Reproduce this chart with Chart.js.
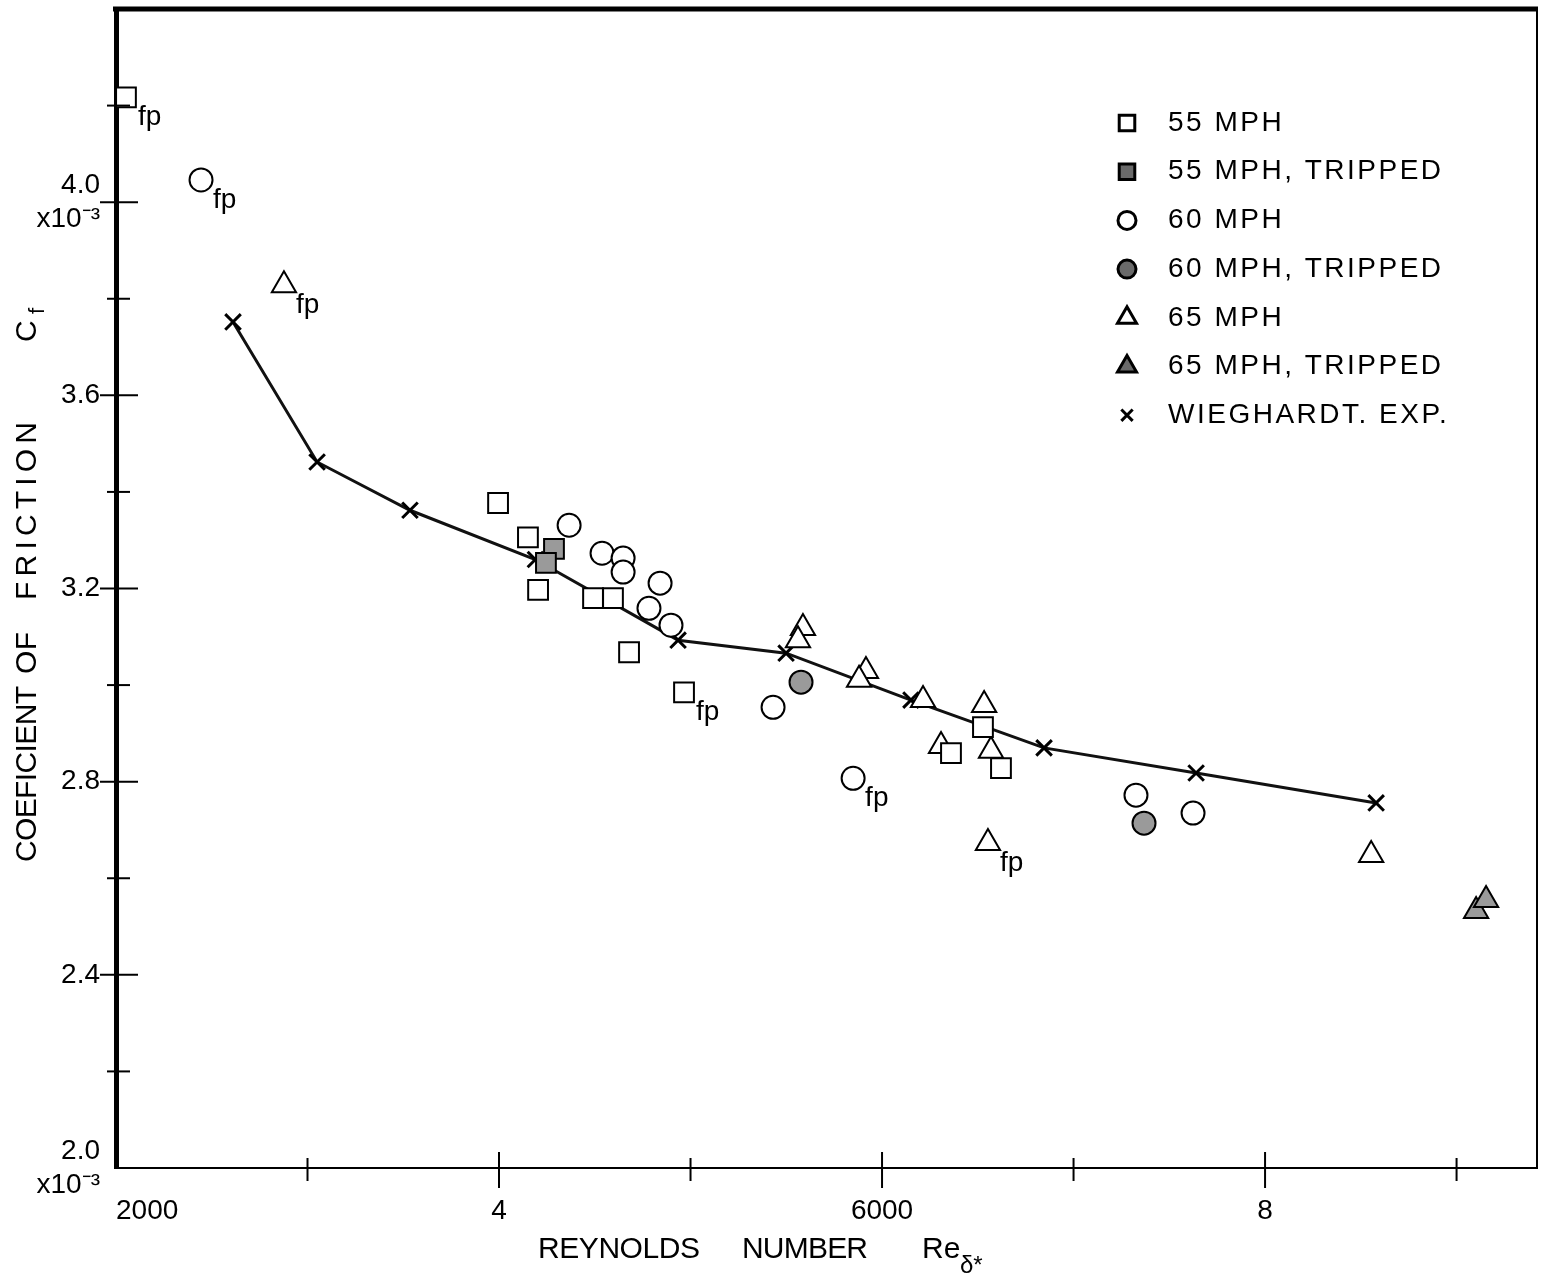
<!DOCTYPE html>
<html>
<head>
<meta charset="utf-8">
<title>Coefficient of friction vs Reynolds number</title>
<script src="https://cdn.jsdelivr.net/npm/chart.js"></script>
<style>
  html, body { margin: 0; padding: 0; background: #fff; }
  #wrap { width: 1549px; height: 1286px; }
</style>
</head>
<body>
<div id="wrap"><canvas id="chart" width="1549" height="1286"></canvas></div>
<script>
// Cf is in units of 10^-3, Re is Re_delta*
// 55 MPH
const sq55Re = [2052, 3995, 4151, 4204, 4491, 4595, 4679, 4966, 6360, 6527, 6621];
const sq55Cf = [4.217, 3.377, 3.306, 3.197, 3.180, 3.180, 3.068, 2.985, 2.859, 2.913, 2.828];
const sq55Fp = [0, 7];
const sq55tRe = [4287, 4245];
const sq55tCf = [3.282, 3.253];

// 60 MPH
const ci60Re = [2444, 4366, 4538, 4648, 4648, 4841, 4783, 4898, 5431, 5849, 7326, 7624];
const ci60Cf = [4.046, 3.331, 3.273, 3.263, 3.234, 3.211, 3.159, 3.124, 2.954, 2.807, 2.772, 2.735];
const ci60Fp = [0, 9];
const ci60tRe = [5577, 7368];
const ci60tCf = [3.006, 2.714];

// 65 MPH
const tr65Re = [2877, 5587, 5561, 5916, 5880, 6214, 6533, 6308, 6569, 6553, 8554];
const tr65Cf = [3.828, 3.118, 3.093, 3.029, 3.011, 2.969, 2.959, 2.874, 2.864, 2.673, 2.648];
const tr65Fp = [0, 9];
const tr65tRe = [9102, 9154];
const tr65tCf = [2.532, 2.555];

// Wieghardt experiment
const wieRe = [2611, 3050, 3535, 4190, 4935, 5499, 6151, 6846, 7640, 8580];
const wieCf = [3.752, 3.462, 3.362, 3.260, 3.093, 3.066, 2.969, 2.870, 2.818, 2.756];

// ticks
const xTicks = [2000, 3000, 4000, 5000, 6000, 7000, 8000, 9000];
const xTickValues = [2000, 4000, 6000, 8000];
const xTickText = ['2000', '4', '6000', '8'];
const yTickValues = [2.0, 2.4, 2.8, 3.2, 3.6, 4.0];
const yExpTicks = [2.0, 4.0];

const FAMILY = '"Liberation Sans", Arial, sans-serif';
const TRIP = '#9a9a9a';

const pts = (xs, ys) => xs.map((x, i) => ({ x, y: ys[i] }));

function spaced(ctx, text, x, y, width) {
  ctx.letterSpacing = '0px';
  const w = ctx.measureText(text).width;
  const gap = width && text.length > 1 ? (width - w) / (text.length - 1) : 0;
  ctx.letterSpacing = gap + 'px';
  ctx.fillText(text, x, y);
  ctx.letterSpacing = '0px';
}

// "fp" notes next to flat plate points
const fpNotes = {
  id: 'fpNotes',
  afterDatasetsDraw(chart) {
    const ctx = chart.ctx;
    ctx.save();
    ctx.fillStyle = '#000';
    ctx.font = '28px ' + FAMILY;
    ctx.textAlign = 'left';
    ctx.textBaseline = 'alphabetic';
    chart.data.datasets.forEach((ds, i) => {
      (ds.fp || []).forEach(j => {
        const p = chart.getDatasetMeta(i).data[j];
        ctx.fillText('fp', p.x + 12, p.y + 28);
      });
    });
    ctx.restore();
  }
};

const decorations = {
  id: 'decorations',
  afterDraw(chart) {
    const { ctx, chartArea: a, scales: { x, y } } = chart;
    ctx.save();
    ctx.strokeStyle = '#000';
    ctx.fillStyle = '#000';

    // heavy top border, light right border
    ctx.lineWidth = 5;
    ctx.beginPath(); ctx.moveTo(a.left - 3, a.top); ctx.lineTo(a.right + 1, a.top); ctx.stroke();
    ctx.lineWidth = 2;
    ctx.beginPath(); ctx.moveTo(a.right, a.top); ctx.lineTo(a.right, a.bottom); ctx.stroke();

    // ticks cross the axes
    ctx.lineWidth = 2;
    x.ticks.forEach(t => {
      if (t.value <= x.min) return;
      const px = x.getPixelForValue(t.value);
      const big = t.label !== '';
      ctx.beginPath();
      ctx.moveTo(px, a.bottom - (big ? 16 : 10));
      ctx.lineTo(px, a.bottom + (big ? 20 : 13));
      ctx.stroke();
    });
    y.ticks.forEach(t => {
      if (t.value <= y.min + 1e-6 || t.value >= y.max - 1e-6) return;
      const py = y.getPixelForValue(t.value);
      const big = t.label !== '';
      ctx.beginPath();
      ctx.moveTo(a.left - (big ? 16 : 9), py);
      ctx.lineTo(a.left + (big ? 22 : 14), py);
      ctx.stroke();
    });

    // axis titles
    ctx.font = '30px ' + FAMILY;
    ctx.textAlign = 'left';
    ctx.textBaseline = 'middle';
    ctx.save();
    ctx.translate(28, 0);
    ctx.rotate(-Math.PI / 2);
    spaced(ctx, 'COEFICIENT', -862, 0, 176);
    spaced(ctx, 'OF', -674, 0, 42);
    spaced(ctx, 'FRICTION', -600, 0, 178);
    ctx.fillText('C', -342, 0);
    ctx.font = '22px ' + FAMILY;
    ctx.fillText('f', -314, 10);
    ctx.restore();

    ctx.font = '30px ' + FAMILY;
    spaced(ctx, 'REYNOLDS', 538, 1250, 162);
    spaced(ctx, 'NUMBER', 742, 1250, 126);
    ctx.fillText('Re', 922, 1250);
    ctx.font = '24px ' + FAMILY;
    ctx.fillText('\u03b4*', 960, 1266);

    // legend
    const helpers = Chart.helpers;
    const legendSize = { rect: 11, circle: 9, triangle: 11, crossRot: 8 };
    chart.data.datasets.forEach((ds, i) => {
      const ly = 123 + i * 48.7;
      ctx.fillStyle = ds.backgroundColor === TRIP ? '#6a6a6a' : '#fff';
      ctx.strokeStyle = '#000';
      ctx.lineWidth = 3;
      helpers.drawPoint(ctx, { pointStyle: ds.pointStyle, radius: legendSize[ds.pointStyle], rotation: 0, borderWidth: 3 }, 1127, ly);
      ctx.fillStyle = '#000';
      ctx.font = '28px ' + FAMILY;
      ctx.letterSpacing = '2.5px';
      ctx.fillText(ds.label, 1168, ly);
      ctx.letterSpacing = '0px';
    });
    ctx.restore();
  }
};

const marker = (label, xs, ys, style, r, fill, fp) => ({
  label,
  data: pts(xs, ys),
  fp,
  clip: false,
  pointStyle: style,
  pointRadius: r,
  pointHoverRadius: r,
  backgroundColor: fill,
  pointBackgroundColor: fill,
  borderColor: '#000',
  pointBorderColor: '#000',
  pointBorderWidth: 2,
  showLine: false
});

new Chart(document.getElementById('chart'), {
  type: 'scatter',
  data: {
    datasets: [
      marker('55 MPH', sq55Re, sq55Cf, 'rect', 14, '#fff', sq55Fp),
      marker('55 MPH, TRIPPED', sq55tRe, sq55tCf, 'rect', 14, TRIP, []),
      marker('60 MPH', ci60Re, ci60Cf, 'circle', 11.5, '#fff', ci60Fp),
      marker('60 MPH, TRIPPED', ci60tRe, ci60tCf, 'circle', 11.5, TRIP, []),
      marker('65 MPH', tr65Re, tr65Cf, 'triangle', 14, '#fff', tr65Fp),
      marker('65 MPH, TRIPPED', tr65tRe, tr65tCf, 'triangle', 14, TRIP, []),
      {
        label: 'WIEGHARDT. EXP.',
        data: pts(wieRe, wieCf),
        clip: false,
        pointStyle: 'crossRot',
        pointRadius: 11,
        pointBorderWidth: 3,
        pointBorderColor: '#000',
        backgroundColor: '#fff',
        borderColor: '#111',
        borderWidth: 3,
        showLine: true,
        tension: 0
      }
    ]
  },
  options: {
    responsive: false,
    animation: false,
    layout: { autoPadding: false, padding: { top: 9, right: 12, left: 0, bottom: 0 } },
    plugins: { legend: { display: false }, tooltip: { enabled: false } },
    scales: {
      x: {
        type: 'linear',
        min: 2000,
        max: 9420,
        afterBuildTicks: s => { s.ticks = xTicks.map(v => ({ value: v })); },
        afterFit: s => { s.height = 118; s.paddingLeft = 0; s.paddingRight = 0; },
        grid: { display: true, drawOnChartArea: false, drawTicks: false },
        border: { display: true, color: '#000', width: 2 },
        ticks: {
          autoSkip: false,
          maxRotation: 0,
          align: 'inner',
          padding: 26,
          color: '#000',
          font: { family: FAMILY, size: 28 },
          callback: v => {
            const k = xTickValues.indexOf(v);
            return k >= 0 ? xTickText[k] : '';
          }
        }
      },
      y: {
        type: 'linear',
        min: 2.0,
        max: 4.4,
        afterFit: s => { s.width = 116; s.paddingTop = 0; s.paddingBottom = 0; },
        grid: { display: true, drawOnChartArea: false, drawTicks: false },
        border: { display: true, color: '#000', width: 5 },
        ticks: {
          stepSize: 0.2,
          autoSkip: false,
          padding: 16,
          color: '#000',
          font: { family: FAMILY, size: 28 },
          callback: v => {
            const r = Math.round(v * 10) / 10;
            if (Math.abs(v - r) > 1e-6) return '';
            if (yExpTicks.includes(r)) return [r.toFixed(1), 'x10\u207b\u00b3'];
            return yTickValues.includes(r) ? r.toFixed(1) : '';
          }
        }
      }
    }
  },
  plugins: [fpNotes, decorations]
});
</script>
</body>
</html>
